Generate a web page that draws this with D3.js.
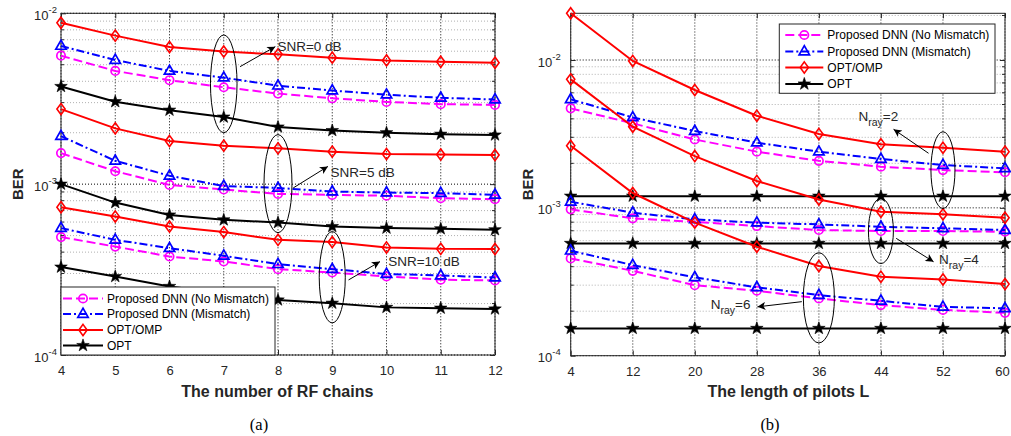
<!DOCTYPE html>
<html><head><meta charset="utf-8">
<script src="https://cdn.jsdelivr.net/npm/d3@7"></script>
<style>body{margin:0;background:#fff} svg{display:block}</style>
</head><body><svg id="c" width="1011" height="436"></svg>
<script>
// ---------------- DATA ----------------
const rfChains = [4, 5, 6, 7, 8, 9, 10, 11, 12];
const snr0_noMismatch = [5.65e-3, 4.6e-3, 4.06e-3, 3.69e-3, 3.39e-3, 3.18e-3, 3.03e-3, 2.94e-3, 2.91e-3];
const snr0_mismatch   = [6.44e-3, 5.33e-3, 4.6e-3, 4.2e-3, 3.77e-3, 3.53e-3, 3.34e-3, 3.2e-3, 3.13e-3];
const snr0_optOmp     = [8.8e-3, 7.4e-3, 6.35e-3, 5.97e-3, 5.75e-3, 5.5e-3, 5.3e-3, 5.2e-3, 5.14e-3];
const snr0_opt        = [3.73e-3, 3.04e-3, 2.71e-3, 2.47e-3, 2.16e-3, 2.06e-3, 2.0e-3, 1.96e-3, 1.94e-3];
const snr5_noMismatch = [1.52e-3, 1.19e-3, 9.9e-4, 9.3e-4, 8.77e-4, 8.65e-4, 8.55e-4, 8.28e-4, 8.17e-4];
const snr5_mismatch   = [1.91e-3, 1.37e-3, 1.12e-3, 9.75e-4, 9.5e-4, 9.05e-4, 8.93e-4, 8.86e-4, 8.66e-4];
const snr5_optOmp     = [2.75e-3, 2.12e-3, 1.79e-3, 1.68e-3, 1.62e-3, 1.55e-3, 1.5e-3, 1.49e-3, 1.48e-3];
const snr5_opt        = [1.0e-3, 7.8e-4, 6.6e-4, 6.18e-4, 5.96e-4, 5.65e-4, 5.53e-4, 5.48e-4, 5.41e-4];
const snr10_noMismatch = [4.9e-4, 4.31e-4, 3.77e-4, 3.53e-4, 3.18e-4, 3.04e-4, 2.88e-4, 2.76e-4, 2.73e-4];
const snr10_mismatch   = [5.53e-4, 4.72e-4, 4.22e-4, 3.81e-4, 3.4e-4, 3.18e-4, 2.98e-4, 2.92e-4, 2.84e-4];
const snr10_optOmp     = [7.33e-4, 6.47e-4, 5.65e-4, 5.24e-4, 4.72e-4, 4.58e-4, 4.26e-4, 4.18e-4, 4.17e-4];
const snr10_opt        = [3.27e-4, 2.88e-4, 2.52e-4, 2.3e-4, 2.1e-4, 2.01e-4, 1.9e-4, 1.88e-4, 1.86e-4];

const pilotLengths = [4, 12, 20, 28, 36, 44, 52, 60];
const nray2_noMismatch = [4.71e-3, 3.73e-3, 2.9e-3, 2.4e-3, 2.08e-3, 1.9e-3, 1.8e-3, 1.74e-3];
const nray2_mismatch   = [5.42e-3, 4.09e-3, 3.31e-3, 2.76e-3, 2.4e-3, 2.14e-3, 1.95e-3, 1.85e-3];
const nray2_optOmp     = [2.07e-2, 9.85e-3, 6.27e-3, 4.2e-3, 3.16e-3, 2.69e-3, 2.55e-3, 2.4e-3];
const nray2_opt        = [1.2e-3, 1.2e-3, 1.2e-3, 1.2e-3, 1.2e-3, 1.2e-3, 1.2e-3, 1.2e-3];
const nray4_noMismatch = [9.77e-4, 8.49e-4, 8.05e-4, 7.53e-4, 7.08e-4, 6.97e-4, 6.97e-4, 6.89e-4];
const nray4_mismatch   = [1.1e-3, 9.27e-4, 8.36e-4, 7.94e-4, 7.73e-4, 7.45e-4, 7.27e-4, 7.08e-4];
const nray4_optOmp     = [7.4e-3, 3.54e-3, 2.24e-3, 1.52e-3, 1.14e-3, 9.4e-4, 9.04e-4, 8.57e-4];
const nray4_opt        = [5.75e-4, 5.75e-4, 5.75e-4, 5.75e-4, 5.75e-4, 5.75e-4, 5.75e-4, 5.75e-4];
const nray6_noMismatch = [4.55e-4, 3.75e-4, 3.0e-4, 2.75e-4, 2.44e-4, 2.2e-4, 2.04e-4, 1.95e-4];
const nray6_mismatch   = [5.13e-4, 4.1e-4, 3.39e-4, 2.9e-4, 2.57e-4, 2.35e-4, 2.14e-4, 2.09e-4];
const nray6_optOmp     = [2.63e-3, 1.26e-3, 7.94e-4, 5.46e-4, 4.04e-4, 3.42e-4, 3.28e-4, 3.05e-4];
const nray6_opt        = [1.53e-4, 1.53e-4, 1.53e-4, 1.53e-4, 1.53e-4, 1.53e-4, 1.53e-4, 1.53e-4];

const legendLabels = ["Proposed DNN (No Mismatch)", "Proposed DNN (Mismatch)", "OPT/OMP", "OPT"];
const yTickExponents = [-4, -3, -2];

// ---------------- STYLE ----------------
const FONT = '"Liberation Sans", Arial, Helvetica, sans-serif';
const svg = d3.select('#c');

function starPath(R, r) {
  let p = '';
  for (let i = 0; i < 10; i++) {
    const a = -Math.PI / 2 + i * Math.PI / 5, rad = i % 2 ? r : R;
    p += (i ? 'L' : 'M') + (rad * Math.cos(a)).toFixed(2) + ',' + (rad * Math.sin(a)).toFixed(2);
  }
  return p + 'Z';
}
const seriesStyle = [
  { color: '#ff00ff', dash: '9,4', marker: 'circle' },
  { color: '#0000ff', dash: '8,3,2,3', marker: 'tri' },
  { color: '#ff0000', dash: null, marker: 'diamond' },
  { color: '#000000', dash: null, marker: 'star' }
];
function drawMarker(g, type, color, px, py) {
  if (type === 'circle') {
    g.append('circle').attr('cx', px).attr('cy', py).attr('r', 4.2)
      .attr('fill', 'none').attr('stroke', color).attr('stroke-width', 1.7);
  } else if (type === 'tri') {
    g.append('path').attr('d', 'M0,-5.8L5.2,3.3L-5.2,3.3Z').attr('transform', `translate(${px},${py})`)
      .attr('fill', 'none').attr('stroke', color).attr('stroke-width', 1.7);
  } else if (type === 'diamond') {
    g.append('path').attr('d', 'M0,-5.6L4.1,0L0,5.6L-4.1,0Z').attr('transform', `translate(${px},${py})`)
      .attr('fill', 'none').attr('stroke', color).attr('stroke-width', 1.6);
  } else {
    g.append('path').attr('d', starPath(6.6, 2.6)).attr('transform', `translate(${px},${py})`)
      .attr('fill', color).attr('stroke', color).attr('stroke-width', 0.6);
  }
}

svg.append('defs').append('marker').attr('id', 'ah').attr('viewBox', '0 0 10 10')
  .attr('refX', 10).attr('refY', 5).attr('markerWidth', 11).attr('markerHeight', 8)
  .attr('markerUnits', 'userSpaceOnUse').attr('orient', 'auto')
  .append('path').attr('d', 'M0,0L10,5L0,10L2.5,5Z').attr('fill', '#000');

function panel(o) {
  const x = d3.scaleLinear().domain(o.xDomain).range([o.left, o.right]);
  const y = d3.scaleLog().domain(o.yDomain).range([o.bottom, o.top]);
  const g = svg.append('g');

  // minor horizontal grid
  const minors = [];
  yTickExponents.forEach(e => { for (let m = 2; m <= 9; m++) { const v = m * Math.pow(10, e); if (v > o.yDomain[0] && v < o.yDomain[1]) minors.push(v); } });
  const majors = yTickExponents.map(e => Math.pow(10, e)).filter(v => v >= o.yDomain[0] && v <= o.yDomain[1]);
  g.selectAll('.mg').data(minors).join('line').attr('x1', o.left).attr('x2', o.right)
    .attr('y1', d => y(d)).attr('y2', d => y(d)).attr('stroke', '#b0b0b0').attr('stroke-width', 1).attr('stroke-dasharray', '1,2');
  g.selectAll('.Mg').data(majors).join('line').attr('x1', o.left).attr('x2', o.right)
    .attr('y1', d => y(d)).attr('y2', d => y(d)).attr('stroke', '#000').attr('stroke-width', 1).attr('stroke-dasharray', '1,2');
  g.selectAll('.vg').data(o.xTicks).join('line').attr('x1', d => x(d)).attr('x2', d => x(d))
    .attr('y1', o.top).attr('y2', o.bottom).attr('stroke', o.vGridColor).attr('stroke-width', o.vGridWidth).attr('stroke-dasharray', o.vGridDash);

  // frame + ticks
  const axB = d3.axisBottom(x).tickValues(o.xTicks).tickSizeInner(-5).tickSizeOuter(0).tickPadding(11);
  const gx = g.append('g').attr('transform', `translate(0,${o.bottom})`).call(axB);
  gx.select('.domain').remove();
  gx.selectAll('line').attr('stroke', '#262626');
  gx.selectAll('text').attr('font-family', FONT).attr('font-size', 13).attr('fill', '#262626')
    .attr('dx', (d, i, n) => (i === n.length - 1 ? o.lastTickShift : 0));
  const axT = d3.axisTop(x).tickValues(o.xTicks).tickSizeInner(-5).tickSizeOuter(0).tickFormat('');
  const gt = g.append('g').attr('transform', `translate(0,${o.top})`).call(axT);
  gt.select('.domain').remove(); gt.selectAll('line').attr('stroke', '#262626');

  const axL = d3.axisLeft(y).tickValues(majors).tickSizeInner(-5).tickSizeOuter(0).tickFormat('');
  const gl = g.append('g').attr('transform', `translate(${o.left},0)`).call(axL);
  gl.select('.domain').remove(); gl.selectAll('line').attr('stroke', '#262626');
  const axR = d3.axisRight(y).tickValues(majors).tickSizeInner(-5).tickSizeOuter(0).tickFormat('');
  const gr = g.append('g').attr('transform', `translate(${o.right},0)`).call(axR);
  gr.select('.domain').remove(); gr.selectAll('line').attr('stroke', '#262626');
  // minor ticks
  g.selectAll('.mtl').data(minors).join('line').attr('x1', o.left).attr('x2', o.left + 3)
    .attr('y1', d => y(d)).attr('y2', d => y(d)).attr('stroke', '#262626');
  g.selectAll('.mtr').data(minors).join('line').attr('x1', o.right - 3).attr('x2', o.right)
    .attr('y1', d => y(d)).attr('y2', d => y(d)).attr('stroke', '#262626');

  // y tick labels 10^e
  yTickExponents.forEach(e => {
    const v = Math.pow(10, e);
    if (v < o.yDomain[0] || v > o.yDomain[1]) return;
    const t = g.append('text').attr('x', o.left - o.yLabelGap).attr('y', y(v) + 6.5)
      .attr('text-anchor', 'end').attr('font-family', FONT).attr('font-size', 13).attr('fill', '#262626');
    t.append('tspan').text('10');
    t.append('tspan').attr('font-size', 9.5).attr('dy', -7).text(String(e));
  });

  g.append('rect').attr('x', o.left).attr('y', o.top).attr('width', o.right - o.left).attr('height', o.bottom - o.top)
    .attr('fill', 'none').attr('stroke', '#262626').attr('stroke-width', 1);

  // series
  o.groups.forEach(grp => {
    grp.forEach((vals, i) => {
      const st = seriesStyle[i];
      const pts = o.xTicks.map((xv, k) => [x(xv), y(vals[k])]);
      g.append('path').attr('d', d3.line()(pts)).attr('fill', 'none').attr('stroke', st.color)
        .attr('stroke-width', 2).attr('stroke-dasharray', st.dash);
      pts.forEach(p => drawMarker(g, st.marker, st.color, p[0], p[1]));
    });
  });

  // annotations
  o.ellipses.forEach(el => {
    const cy1 = y(el.yTop), cy2 = y(el.yBot);
    g.append('ellipse').attr('cx', x(el.x)).attr('cy', (cy1 + cy2) / 2)
      .attr('rx', x(el.x + el.rx) - x(el.x)).attr('ry', (cy2 - cy1) / 2)
      .attr('fill', 'none').attr('stroke', '#000').attr('stroke-width', 1);
  });
  o.arrows.forEach(a => {
    g.append('line').attr('x1', x(a.from[0])).attr('y1', y(a.from[1])).attr('x2', x(a.to[0])).attr('y2', y(a.to[1]))
      .attr('stroke', '#000').attr('stroke-width', 1).attr('marker-end', 'url(#ah)');
  });
  o.notes.forEach(n => {
    const t = g.append('text').attr('x', x(n.x)).attr('y', y(n.y)).attr('font-family', FONT)
      .attr('font-size', 13.5).attr('fill', '#262626');
    if (n.sub) {
      t.append('tspan').text(n.main);
      t.append('tspan').attr('font-size', 10.5).attr('dy', 5).text(n.sub);
      t.append('tspan').attr('dy', -5).text(n.rest);
    } else t.text(n.main);
  });

  // legend
  const L = o.legend;
  g.append('rect').attr('x', L.x).attr('y', L.y).attr('width', L.w).attr('height', L.h)
    .attr('fill', '#fff').attr('stroke', '#262626').attr('stroke-width', 1);
  legendLabels.forEach((lab, i) => {
    const st = seriesStyle[i], ry = L.rows[i];
    g.append('line').attr('x1', L.x + L.s0).attr('x2', L.x + L.s1).attr('y1', ry).attr('y2', ry)
      .attr('stroke', st.color).attr('stroke-width', 2).attr('stroke-dasharray', st.dash);
    drawMarker(g, st.marker, st.color, L.x + (L.s0 + L.s1) / 2, ry);
    g.append('text').attr('x', L.x + L.tx).attr('y', ry + 4.3).attr('font-family', FONT)
      .attr('font-size', 12).attr('fill', '#000').text(lab);
  });

  // axis labels
  g.append('text').attr('x', (o.left + o.right) / 2 + o.xLabelShift).attr('y', 397).attr('text-anchor', 'middle')
    .attr('font-family', FONT).attr('font-weight', 'bold').attr('font-size', 16).attr('fill', '#262626').text(o.xLabel);
  g.append('text').attr('transform', `translate(${o.yLabelX},${(o.top + o.bottom) / 2}) rotate(-90)`)
    .attr('text-anchor', 'middle').attr('font-family', FONT).attr('font-weight', 'bold').attr('font-size', 15)
    .attr('fill', '#262626').text('BER');
  g.append('text').attr('x', o.captionX).attr('y', 430).attr('text-anchor', 'middle')
    .attr('font-family', '"Liberation Serif", "Times New Roman", serif').attr('font-size', 16.5).attr('fill', '#000').text(o.caption);
}

panel({
  left: 61, right: 495, top: 13.3, bottom: 355,
  xDomain: [4, 12], yDomain: [1e-4, 1e-2], xTicks: rfChains, lastTickShift: 0,
  vGridColor: '#000', vGridWidth: 1, vGridDash: '1,2', yLabelGap: 4,
  groups: [
    [snr0_noMismatch, snr0_mismatch, snr0_optOmp, snr0_opt],
    [snr5_noMismatch, snr5_mismatch, snr5_optOmp, snr5_opt],
    [snr10_noMismatch, snr10_mismatch, snr10_optOmp, snr10_opt]
  ],
  ellipses: [
    { x: 7, yTop: 7.47e-3, yBot: 2.0e-3, rx: 0.245 },
    { x: 8, yTop: 1.95e-3, yBot: 5.2e-4, rx: 0.258 },
    { x: 9, yTop: 5.28e-4, yBot: 1.54e-4, rx: 0.24 }
  ],
  arrows: [
    { from: [7.3, 4.87e-3], to: [7.95, 6.38e-3] },
    { from: [8.28, 9.5e-4], to: [8.92, 1.27e-3] },
    { from: [9.3, 2.75e-4], to: [9.88, 3.52e-4] }
  ],
  notes: [
    { x: 7.99, y: 6.05e-3, main: 'SNR=0 dB' },
    { x: 8.97, y: 1.1e-3, main: 'SNR=5 dB' },
    { x: 10.03, y: 3.3e-4, main: 'SNR=10 dB' }
  ],
  legend: { x: 61, y: 287, w: 214, h: 68, rows: [298.5, 314, 330, 345.5], s0: 2, s1: 42, tx: 46 },
  xLabel: 'The number of RF chains', xLabelShift: -0.7, yLabelX: 22.5, caption: '(a)', captionX: 259
});

panel({
  left: 570.7, right: 1005, top: 13.3, bottom: 355.7,
  xDomain: [4, 60], yDomain: [1e-4, 0.0207], xTicks: pilotLengths, lastTickShift: -3,
  vGridColor: '#808080', vGridWidth: 1.2, vGridDash: '1.5,1.5', yLabelGap: 10,
  groups: [
    [nray2_noMismatch, nray2_mismatch, nray2_optOmp, nray2_opt],
    [nray4_noMismatch, nray4_mismatch, nray4_optOmp, nray4_opt],
    [nray6_noMismatch, nray6_mismatch, nray6_optOmp, nray6_opt]
  ],
  ellipses: [
    { x: 52, yTop: 3.27e-3, yBot: 9.9e-4, rx: 1.55 },
    { x: 44, yTop: 1.16e-3, yBot: 4.2e-4, rx: 1.61 },
    { x: 36, yTop: 4.97e-4, yBot: 1.22e-4, rx: 2.0 }
  ],
  arrows: [
    { from: [50.14, 2.34e-3], to: [45.63, 3.4e-3] },
    { from: [45.97, 6.22e-4], to: [50.79, 4.32e-4] },
    { from: [33.8, 2.32e-4], to: [28.08, 2.14e-4] }
  ],
  notes: [
    { x: 41.1, y: 3.85e-3, main: 'N', sub: 'ray', rest: '=2' },
    { x: 51.5, y: 4.2e-4, main: 'N', sub: 'ray', rest: '=4' },
    { x: 22.06, y: 2.08e-4, main: 'N', sub: 'ray', rest: '=6' }
  ],
  legend: { x: 779.3, y: 24, w: 215.7, h: 69.3, rows: [35, 51.5, 67.5, 84], s0: 6, s1: 44, tx: 48 },
  xLabel: 'The length of pilots L', xLabelShift: 0.5, yLabelX: 533, caption: '(b)', captionX: 770
});
</script>
</body></html>
